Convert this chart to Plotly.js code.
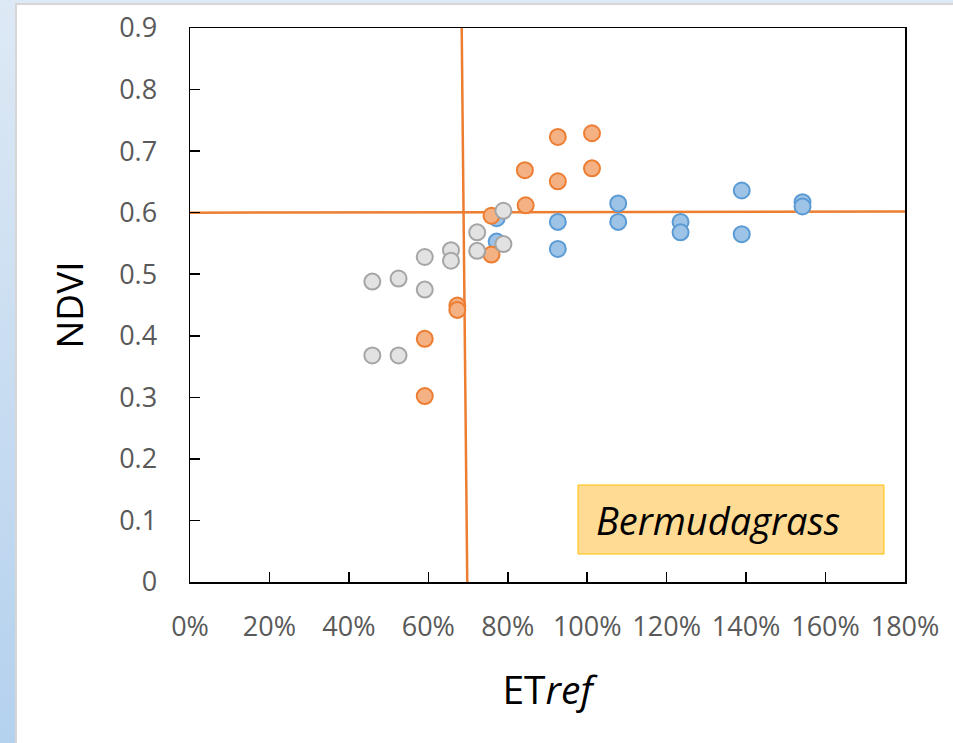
<!DOCTYPE html>
<html>
<head>
<meta charset="utf-8">
<script src="https://cdn.plot.ly/plotly-3.0.1.min.js"></script>
<style>
  html, body { margin: 0; padding: 0; width: 953px; height: 743px; overflow: hidden; }
  body { background: linear-gradient(to bottom, #dde9f5 0%, #c9ddf1 50%, #b4d1ee 100%); position: relative; }
  #panel { position: absolute; left: 15px; top: 3px; right: 0; bottom: 0; background: #ffffff;
           border-left: 2px solid #d6d6d6; border-top: 2px solid #d6d6d6; }
  #chart { position: absolute; left: 0; top: 0; width: 953px; height: 743px; }
</style>
</head>
<body>
<div id="panel"></div>
<div id="chart"></div>
<script>
// ---- data ----
const grayX   = [0.459, 0.525, 0.591, 0.591, 0.657, 0.657, 0.723, 0.723, 0.789, 0.789, 0.459, 0.525];
const grayY   = [0.488, 0.493, 0.528, 0.475, 0.539, 0.522, 0.568, 0.538, 0.603, 0.549, 0.368, 0.368];

const orangeX = [0.759, 0.759, 0.845, 0.843, 0.926, 0.926, 1.012, 1.012, 0.673, 0.673, 0.591, 0.591];
const orangeY = [0.595, 0.532, 0.612, 0.669, 0.651, 0.723, 0.729, 0.672, 0.449, 0.442, 0.395, 0.302];

const blueX   = [0.772, 0.772, 0.926, 0.926, 1.078, 1.078, 1.235, 1.235, 1.389, 1.389, 1.542, 1.542];
const blueY   = [0.591, 0.553, 0.585, 0.541, 0.615, 0.585, 0.585, 0.568, 0.636, 0.565, 0.617, 0.610];

// threshold lines
const vLineX = [0.684, 0.698];
const vLineY = [0.9, 0];
const hLineX = [0, 1.82];
const hLineY = [0.600, 0.602];

const xTickVals = [0, 0.2, 0.4, 0.6, 0.8, 1.0, 1.2, 1.4, 1.6, 1.8];
const yTickVals = [0, 0.1, 0.2, 0.3, 0.4, 0.5, 0.6, 0.7, 0.8, 0.9];

const labelText = "Bermudagrass";
const xTitle = "ET<i>ref</i>";
const yTitle = "NDVI";

// ---- chart ----
const lineStyle = {color: '#ed7d31', width: 2.5};
const traces = [
  {x: vLineX, y: vLineY, mode: 'lines', line: lineStyle, hoverinfo: 'skip', showlegend: false},
  {x: hLineX, y: hLineY, mode: 'lines', line: lineStyle, hoverinfo: 'skip', showlegend: false},
  {x: blueX, y: blueY, mode: 'markers', showlegend: false,
   marker: {size: 16, color: '#9dc3e6', line: {color: '#5b9bd5', width: 2}}},
  {x: orangeX, y: orangeY, mode: 'markers', showlegend: false,
   marker: {size: 16, color: '#f4b183', line: {color: '#ed7d31', width: 2}}},
  {x: grayX, y: grayY, mode: 'markers', showlegend: false,
   marker: {size: 16, color: '#e2e2e2', line: {color: '#a5a5a5', width: 2}}}
];

const tickFont = {family: 'Open Sans, sans-serif', size: 27, color: '#595959'};
const titleFont = {family: 'Open Sans, sans-serif', size: 39, color: '#000000'};

const layout = {
  width: 953, height: 743,
  margin: {l: 190, r: 48, t: 28, b: 161},
  paper_bgcolor: 'rgba(0,0,0,0)',
  plot_bgcolor: '#ffffff',
  showlegend: false,
  xaxis: {
    range: [0, 1.8], tickvals: xTickVals, tickformat: '.0%',
    showgrid: false, zeroline: false,
    showline: true, linecolor: '#000000', linewidth: 1.5, mirror: true,
    ticks: 'inside', ticklen: 10, tickwidth: 1.5, tickcolor: '#000000',
    tickfont: tickFont, ticklabelstandoff: 20,
    title: {text: xTitle, font: titleFont, standoff: 34}
  },
  yaxis: {
    range: [0, 0.9], tickvals: yTickVals,
    showgrid: false, zeroline: false,
    showline: true, linecolor: '#000000', linewidth: 1.5, mirror: true,
    ticks: 'inside', ticklen: 10, tickwidth: 1.5, tickcolor: '#000000',
    tickfont: tickFont, ticklabelstandoff: 26,
    title: {text: yTitle, font: {family: 'Open Sans, sans-serif', size: 37, color: '#000000'}, standoff: 24}
  },
  shapes: [
    {type: 'rect', xref: 'paper', yref: 'paper', x0: 0.5427, x1: 0.9706, y0: 0.0505, y1: 0.1751,
     fillcolor: '#ffdb93', line: {color: '#ffc000', width: 1}, layer: 'above'}
  ],
  annotations: [
    {xref: 'paper', yref: 'paper', x: 0.5650, y: 0.1128, xanchor: 'left', yanchor: 'middle',
     text: '<i>' + labelText + '</i>', showarrow: false,
     font: {family: 'Open Sans, sans-serif', size: 38, color: '#000000'}}
  ]
};

Plotly.newPlot('chart', traces, layout, {displayModeBar: false, staticPlot: true});
</script>
</body>
</html>
